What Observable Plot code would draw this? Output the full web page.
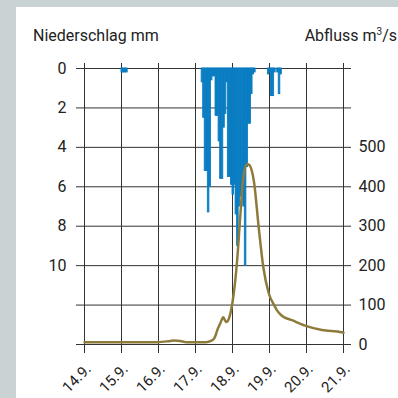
<!DOCTYPE html>
<html><head><meta charset="utf-8">
<script src="https://cdn.jsdelivr.net/npm/d3@7"></script>
<script src="https://cdn.jsdelivr.net/npm/@observablehq/plot@0.6"></script>
<style>
html,body{margin:0;padding:0;}
body{width:398px;height:398px;background:#c9d3d4;position:relative;overflow:hidden;font-family:Roboto,"Open Sans",sans-serif;}
#panel{position:absolute;left:16px;top:7px;right:0;bottom:0;background:#fff;}
.title{position:absolute;top:28px;font-size:16px;line-height:16px;color:#222;white-space:nowrap;}
#tl{left:33px;}
#tr{right:1px;}
#tr sup{font-size:10px;vertical-align:6px;line-height:0;}
#chart{position:absolute;left:0;top:0;}
</style></head>
<body>
<div id="panel"></div>
<div class="title" id="tl">Niederschlag mm</div>
<div class="title" id="tr">Abfluss m<sup>3</sup>/s</div>
<div id="chart"></div>
<script>
const dayTicks = ["2021-09-14","2021-09-15","2021-09-16","2021-09-17","2021-09-18","2021-09-19","2021-09-20","2021-09-21"];
const dayLabels = ["14.9.","15.9.","16.9.","17.9.","18.9.","19.9.","20.9.","21.9."];
const mmTicks = [0,2,4,6,8,10];
const gridMm = [0,2,4,6,8,10,12,14];
const flowTicks = [0,100,200,300,400,500];

// precipitation: hour since 14.9. 00:00, value in mm
const precipHour = [24,25,26,27,
  76,77,78,79,80,81,82,83,84,85,86,87,88,89,90,91,92,93,94,95,96,97,98,99,100,101,102,103,104,105,106,107,108,109,110,
  119,120,121,122,123,125,126,127];
const precipMm = [0.2,0.2,0.2,0.2,
  0.7,2.5,5.2,5.2,7.3,6.0,0.6,0.4,0.4,2.4,2.4,3.7,5.6,5.6,3.0,2.3,0.7,5.5,5.5,5.9,6.4,5.9,7.4,9.0,7.0,6.5,6.0,7.0,10.0,5.0,2.8,2.8,1.3,0.3,0.2,
  0.3,0.2,1.4,1.4,0.2,0.2,1.3,0.3];

// discharge: hour since 14.9. 00:00, value in m3/s
const flowHour = [0,24,47,54,58,62,66,79,82,84,85,86,88,90,91,92,93.6,96,99,101,103,105.5,107,110,113,116,119.5,123,125,128,135,143,154,167,168];
const flowM3s  = [6,6,6,8,10,9,6,6,9,15,23,35,53,69,62,57,65,107,213,323,424,458,455,411,297,196,130,100,86,73,61,48,37,31,30];

const t0 = Date.UTC(2021,8,14);
const hourToDate = h => new Date(t0 + h*3600e3);
const precip = precipHour.map((h,i)=>({a: hourToDate(h), b: hourToDate(h+1), mm: precipMm[i]}));
const flow = flowHour.map((h,i)=>({t: hourToDate(h), q: flowM3s[i]}));
const qToMm = q => 14 - q/50;
const dayDates = dayTicks.map(d => new Date(d + "T00:00:00Z"));

const chart = Plot.plot({
  width: 398, height: 398,
  marginLeft: 84, marginRight: 55, marginTop: 68, marginBottom: 54,
  style: {background: "transparent", fontFamily: "Roboto, 'Open Sans', sans-serif", fontSize: "16px", color: "#222"},
  x: {type: "utc", domain: [dayDates[0], dayDates[dayDates.length-1]], axis: null},
  y: {domain: [0,14], reverse: true, axis: null, label: null},
  marks: [
    Plot.ruleX(dayDates, {x: d=>d, y1: 0, y2: 14, insetTop: -5, insetBottom: -9, stroke: "#333", strokeWidth: 1}),
    Plot.ruleY(gridMm, {y: d=>d, insetLeft: -8, insetRight: -8, stroke: "#333", strokeWidth: 1}),
    Plot.rect(precip, {x1: "a", x2: "b", y1: 0, y2: "mm", fill: "#0a7dc2", stroke: "#0a7dc2", strokeWidth: 0.9}),
    Plot.line(flow, {x: "t", y: d => qToMm(d.q), stroke: "#8e7b3c", strokeWidth: 2.5, curve: "monotone-x"}),
    Plot.axisY(mmTicks, {anchor: "left", tickSize: 0, tickPadding: 18, label: null, fill: "#222"}),
    Plot.axisY(flowTicks.map(qToMm), {anchor: "right", tickSize: 0, tickPadding: 15, label: null, fill: "#222",
      tickFormat: v => String(Math.round((14 - v) * 50))}),
    Plot.text(dayDates, {x: d => d, frameAnchor: "bottom", text: (d, i) => dayLabels[i], rotate: -45,
      textAnchor: "end", lineAnchor: "middle", dx: 4, dy: 22, fontSize: 15, fill: "#222"})
  ]
});
document.getElementById("chart").appendChild(chart);
</script>
</body></html>
